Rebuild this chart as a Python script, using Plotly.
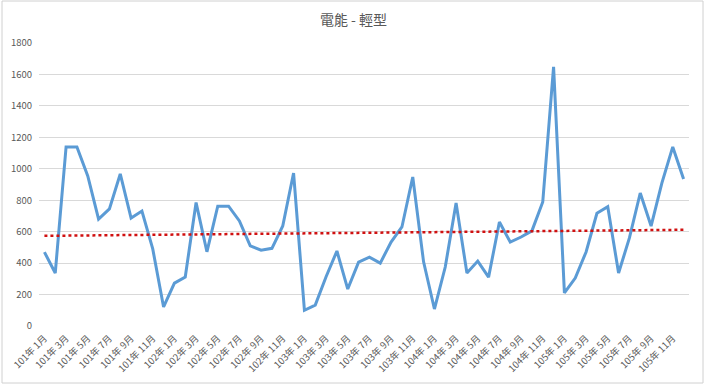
import numpy as np
import plotly.graph_objects as go

years = [101, 102, 103, 104, 105]
months = list(range(1, 13))
categories = [f"{y}年 {m}月" for y in years for m in months]

values = [470, 337, 1139, 1139, 955, 680, 745, 967, 687, 731, 490, 121,
          273, 312, 785, 472, 762, 762, 668, 510, 482, 494, 636, 973,
          100, 133, 313, 477, 235, 406, 438, 400, 534, 630, 948, 408,
          108, 375, 782, 337, 413, 311, 662, 534, 566, 605, 789, 1648,
          210, 305, 471, 717, 759, 337, 560, 846, 636, 910, 1139, 935]

tick_labels = categories[::2]

idx = np.arange(len(values))
slope, intercept = np.polyfit(idx, values, 1)
trend = intercept + slope * idx

font_family = "Noto Sans CJK TC, Noto Sans, sans-serif"

fig = go.Figure()
fig.add_trace(go.Scatter(x=categories, y=values, mode="lines",
                         line=dict(color="#5B9BD5", width=3),
                         showlegend=False, hoverinfo="x+y"))
fig.add_trace(go.Scatter(x=categories, y=trend, mode="lines",
                         line=dict(color="#D01010", width=2.5, dash="dot"),
                         showlegend=False, hoverinfo="skip"))

W, H = 707, 387
ml, mr, mt, mb = 39, 18, 43, 61
pw, ph = W - ml - mr, H - mt - mb

fig.update_layout(
    width=W, height=H,
    margin=dict(l=ml, r=mr, t=mt, b=mb, autoexpand=False),
    paper_bgcolor="white", plot_bgcolor="white",
    font=dict(family=font_family, color="#595959", size=10),
    title=dict(text="電能 - 輕型", x=0.5, xanchor="center", y=0.948, yanchor="middle",
               font=dict(size=14, color="#595959", family=font_family)),
    xaxis=dict(type="category", range=[-0.5, len(values) - 0.5], automargin=False,
               tickmode="array", tickvals=tick_labels, ticktext=tick_labels,
               tickangle=-45, showgrid=False, zeroline=False, showline=False,
               ticks="", ticklabelstandoff=4, tickfont=dict(size=9.5, color="#595959")),
    yaxis=dict(range=[0, 1800], dtick=200, showgrid=True, gridcolor="#D9D9D9",
               gridwidth=1, zeroline=False, showline=False, ticks="", automargin=False,
               ticklabelstandoff=6, tickfont=dict(size=9.5, color="#595959")),
    shapes=[dict(type="rect", xref="paper", yref="paper",
                 x0=(2 - ml) / pw, x1=(703 - ml) / pw,
                 y0=(H - mb - 383) / ph, y1=(H - mb - 1) / ph,
                 line=dict(color="#D0D0D0", width=1), fillcolor="rgba(0,0,0,0)",
                 layer="below")],
)

fig.write_html("out.html", config={"displayModeBar": False},
               post_script="document.body.style.margin='0';document.body.style.overflow='hidden';")
